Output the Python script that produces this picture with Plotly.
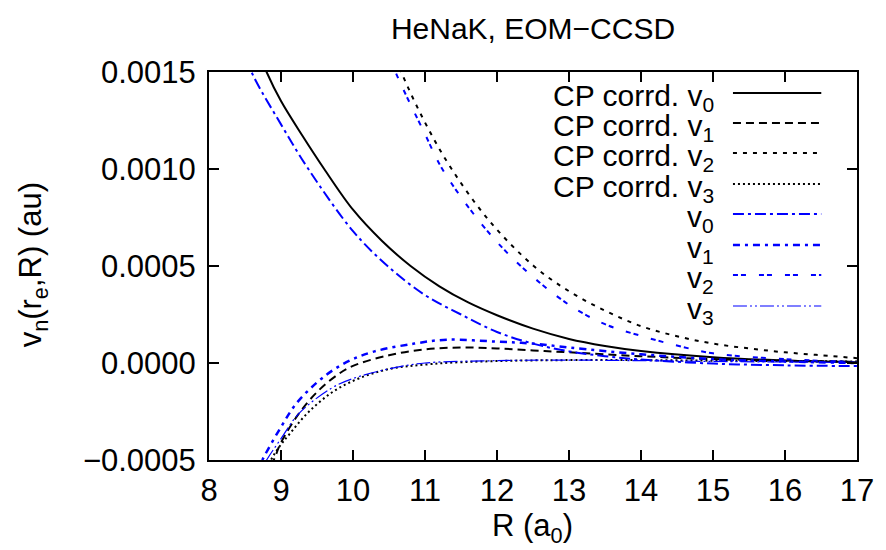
import plotly.graph_objects as go

# ---------------- data ----------------
cp_v0_R = [8.5, 8.8, 9.0, 9.3, 9.6, 10.0, 10.4, 10.8, 11.2, 11.6, 12.0, 12.5, 13.0, 13.5, 14.0, 15.0, 16.0, 17.0]
cp_v0 = [0.00178, 0.0015, 0.00135, 0.00117, 0.0010, 0.00079, 0.00063, 0.0005, 0.000395, 0.000312,
         0.000246, 0.000177, 0.000124, 0.000088, 0.000062, 0.00003, 0.000013, 0.000004]

cp_v1_R = [8.7, 8.9, 9.0, 9.25, 9.5, 9.75, 10.0, 10.5, 11.0, 11.5, 12.0, 12.5, 13.0, 14.0, 15.0, 16.0, 17.0]
cp_v1 = [-0.00065, -0.0005, -0.00041, -0.00026, -0.00015, -0.00007, -0.000015, 0.00004, 0.00007,
         0.00008, 0.000075, 0.000065, 0.000055, 0.000035, 0.00002, 0.000012, 0.000006]

cp_v2_R = [10.4, 10.67, 11.0, 11.37, 11.9, 12.51, 13.0, 13.5, 14.0, 14.5, 15.0, 15.5, 16.0, 16.5, 17.0]
cp_v2 = [0.00176, 0.0015, 0.00124, 0.0010, 0.00073, 0.0005, 0.00037, 0.00027, 0.00019, 0.000138,
         0.0001, 0.000075, 0.000055, 0.00004, 0.000025]

cp_v3_R = [8.7, 8.86, 9.0, 9.11, 9.39, 9.8, 10.4, 11.1, 12.0, 13.0, 14.0, 15.0, 16.0, 17.0]
cp_v3 = [-0.00064, -0.0005, -0.00042, -0.00037, -0.00025, -0.00013, -0.00004, -0.000005, 0.00001,
         0.000015, 0.000015, 0.000012, 0.00001, 0.000008]

v0_R = [8.3, 8.59, 9.0, 9.38, 10.0, 10.48, 11.0, 11.5, 12.0, 12.5, 13.0, 13.5, 14.0, 15.0, 16.0, 17.0]
v0 = [0.00178, 0.0015, 0.00123, 0.0010, 0.00068, 0.0005, 0.00035, 0.00025, 0.00016, 0.0001,
      0.00006, 0.000035, 0.000018, -0.000003, -0.000012, -0.000016]

v1_R = [8.55, 8.74, 9.0, 9.21, 9.5, 9.75, 10.0, 10.3, 10.85, 11.3, 12.0, 12.5, 13.0, 14.0, 15.0, 16.0, 17.0]
v1 = [-0.00065, -0.0005, -0.00033, -0.00021, -0.0001, -0.00003, 0.00002, 0.00006, 0.0001, 0.00012,
      0.00011, 0.0001, 0.00008, 0.000045, 0.00002, 0.000008, 0.0]

v2_R = [10.3, 10.59, 11.0, 11.24, 11.8, 12.33, 13.0, 13.5, 14.0, 14.5, 15.0, 16.0, 17.0]
v2 = [0.00178, 0.0015, 0.00118, 0.0010, 0.00071, 0.0005, 0.0003, 0.0002, 0.00014, 0.00009,
      0.00005, 0.00002, 0.000005]

v3_R = [8.6, 8.8, 9.0, 9.25, 9.7, 10.0, 10.5, 11.0, 12.0, 13.0, 14.0, 15.0, 16.0, 17.0]
v3 = [-0.00063, -0.0005, -0.00039, -0.00026, -0.00013, -0.00008, -0.00003, 0.0, 0.000012,
      0.000015, 0.000012, 0.000008, 0.000005, 0.000003]

series_labels = ["CP corrd. v<sub>0</sub>", "CP corrd. v<sub>1</sub>", "CP corrd. v<sub>2</sub>",
                 "CP corrd. v<sub>3</sub>", "v<sub>0</sub>", "v<sub>1</sub>", "v<sub>2</sub>", "v<sub>3</sub>"]

title_text = "HeNaK, EOM\u2212CCSD"
x_title = "R (a<sub>0</sub>)"
y_title = "v<sub>n</sub>(r<sub>e</sub>,R) (au)"

# ---------------- styling ----------------
BLUE = "#0000ff"
styles = [
    dict(color="black", width=2, dash="solid"),
    dict(color="black", width=2, dash="8px,5px"),
    dict(color="black", width=2, dash="4px,6px"),
    dict(color="black", width=2, dash="2px,3px"),
    dict(color=BLUE, width=2, dash="11px,4px,3px,4px"),
    dict(color=BLUE, width=2.5, dash="7px,5px,3px,5px"),
    dict(color=BLUE, width=2, dash="5px,3px,5px,13px"),
    dict(color=BLUE, width=1.2, dash="14px,3px,2px,3px,2px,3px"),
]
series = [(cp_v0_R, cp_v0), (cp_v1_R, cp_v1), (cp_v2_R, cp_v2), (cp_v3_R, cp_v3),
          (v0_R, v0), (v1_R, v1), (v2_R, v2), (v3_R, v3)]

FONT = "Liberation Sans, Arial, sans-serif"
FS = 31
LEG_FS = 30

W, H = 886, 550
L, R_, T, B = 209, 862, 72, 460


def pxx(x):
    return (x - L) / (R_ - L)


def pxy(y):
    return (B - y) / (B - T)


fig = go.Figure()
for (xs, ys), st, name in zip(series, styles, series_labels):
    fig.add_trace(go.Scatter(x=xs, y=ys, mode="lines", name=name, showlegend=False,
                             line=dict(color=st["color"], width=st["width"], dash=st["dash"],
                                       shape="spline", smoothing=1.0)))

# custom gnuplot-style legend (text right, sample line to its right)
row_y = [93, 123, 153, 184, 214, 245, 275, 306]
annotations = []
shapes = []
for yy, st, name in zip(row_y, styles, series_labels):
    annotations.append(dict(xref="paper", yref="paper", x=pxx(720), y=pxy(yy + 4),
                            text=name, showarrow=False, xanchor="right", yanchor="middle",
                            font=dict(family=FONT, size=LEG_FS, color="black")))
    shapes.append(dict(type="line", xref="paper", yref="paper", x0=pxx(737), x1=pxx(826),
                       y0=pxy(yy), y1=pxy(yy),
                       line=dict(color=st["color"], width=st["width"], dash=st["dash"])))

annotations.append(dict(xref="paper", yref="paper", x=pxx(535), y=pxy(528), text=x_title,
                        showarrow=False, xanchor="center", yanchor="middle",
                        font=dict(family=FONT, size=FS, color="black")))
annotations.append(dict(xref="paper", yref="paper", x=pxx(32), y=pxy(265), text=y_title,
                        showarrow=False, xanchor="center", yanchor="middle", textangle=-90,
                        font=dict(family=FONT, size=FS, color="black")))

fig.update_layout(
    width=W, height=H,
    margin=dict(l=L, r=W - R_, t=T, b=H - B, pad=0),
    paper_bgcolor="white", plot_bgcolor="white",
    font=dict(family=FONT, size=FS, color="black"),
    title=dict(text=title_text, x=0.5, xref="paper", xanchor="center",
               y=1 - 28 / H, yref="container", yanchor="middle",
               font=dict(family=FONT, size=30, color="black")),
    annotations=annotations,
    shapes=shapes,
    showlegend=False,
)
fig.update_xaxes(range=[8, 17], dtick=1, tick0=8, ticks="inside", ticklen=10, tickwidth=2,
                 tickcolor="black", mirror="allticks", showline=True, linewidth=2,
                 linecolor="black", showgrid=False, zeroline=False, ticklabelstandoff=2,
                 tickfont=dict(family=FONT, size=FS, color="black"))
fig.update_yaxes(range=[-0.0005, 0.0015], dtick=0.0005, tick0=0, ticks="inside", ticklen=10,
                 tickwidth=2, tickcolor="black", mirror="allticks", showline=True, linewidth=2,
                 linecolor="black", showgrid=False, zeroline=False, tickformat=".4f",
                 ticklabelstandoff=5,
                 tickfont=dict(family=FONT, size=FS, color="black"))

fig.write_html("out.html", config={"displayModeBar": False},
               post_script="document.body.style.margin='0px';")
